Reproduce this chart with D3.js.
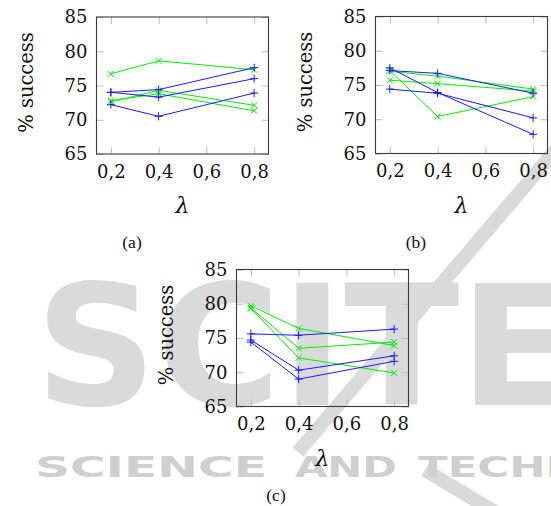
<!DOCTYPE html>
<html>
<head>
<meta charset="utf-8">
<script src="https://cdn.jsdelivr.net/npm/d3@7"></script>
<style>
  body { margin: 0; background: #fff; }
  svg { display: block; }
</style>
</head>
<body>
<svg width="551" height="506"></svg>
<script>
// values, x = lambda
const lambdas = [0.2, 0.4, 0.8];
const xTicks = [0.2, 0.4, 0.6, 0.8];
const yTicks = [65, 70, 75, 80, 85];
const captions = ["(a)", "(b)", "(c)"];

const greenA = [[76.7, 78.6, 77.3], [72.6, 74.3, 72.1], [72.8, 73.8, 71.3]];
const blueA = [[74.0, 74.4, 77.6], [74.0, 73.3, 76.0], [72.2, 70.5, 73.9]];
const greenB = [[77.0, 76.3, 74.4], [75.7, 75.2, 74.1], [77.1, 70.4, 73.3]];
const blueB = [[77.1, 76.7, 73.8], [77.5, 73.9, 67.8], [74.4, 73.8, 70.2]];
const greenC = [[79.7, 76.4, 73.9], [79.4, 73.5, 74.4], [79.3, 72.1, 69.9]];
const blueC = [[75.6, 75.4, 76.3], [74.7, 70.3, 72.4], [74.4, 69.0, 71.6]];

const svg = d3.select("svg");

// background watermark
const wm = svg.append("g").attr("fill", "#dadada");
wm.append("text")
    .attr("x", 35).attr("y", 405)
    .attr("font-family", "DejaVu Sans").attr("font-weight", "bold")
    .attr("font-size", 168)
    .attr("textLength", 540).attr("lengthAdjust", "spacingAndGlyphs")
    .text("SCITE");
wm.append("line")
    .attr("x1", 560).attr("y1", 145).attr("x2", 298).attr("y2", 452)
    .attr("stroke", "#dadada").attr("stroke-width", 14);
wm.append("line")
    .attr("x1", 425).attr("y1", 470).attr("x2", 500).attr("y2", 515)
    .attr("stroke", "#dadada").attr("stroke-width", 14);
const wmWords = [["SCIENCE", 35, 232], ["AND", 295, 102], ["TECHNOLOGY", 418, 330]];
wm.selectAll(".word")
    .data(wmWords)
    .enter().append("text")
      .attr("class", "word")
      .attr("x", d => d[1]).attr("y", 477)
      .attr("font-family", "DejaVu Sans").attr("font-weight", "bold")
      .attr("font-size", 29)
      .attr("textLength", d => d[2]).attr("lengthAdjust", "spacingAndGlyphs")
      .attr("fill", "#cfcfcf")
      .text(d => d[0]);

const w = 172, h = 137;
const panels = [
    {left: 96.5, top: 17, green: greenA, blue: blueA, cap: [132, 248]},
    {left: 375.5, top: 16.5, green: greenB, blue: blueB, cap: [416, 248]},
    {left: 236.5, top: 269.5, green: greenC, blue: blueC, cap: [276, 501]}
];

const x = d3.scaleLinear().domain([0.14, 0.86]).range([0, w]);
const y = d3.scaleLinear().domain([65, 85]).range([h, 0]);

const line = d3.line()
    .x((d, i) => x(lambdas[i]))
    .y(d => y(d));

panels.forEach((p, k) => {
    const g = svg.append("g")
        .attr("transform", `translate(${p.left},${p.top})`);

    // ticks inside on all four sides
    const fmt = d => d.toString().replace(".", ",");
    g.append("g").attr("class", "ax")
        .attr("transform", `translate(0,${h})`)
        .call(d3.axisBottom(x).tickValues(xTicks).tickSizeInner(-7).tickSizeOuter(0)
            .tickPadding(11).tickFormat(fmt));
    g.append("g").attr("class", "ax")
        .call(d3.axisTop(x).tickValues(xTicks).tickSizeInner(-7).tickSizeOuter(0).tickFormat(""));
    g.append("g").attr("class", "ax")
        .call(d3.axisLeft(y).tickValues(yTicks).tickSizeInner(-7).tickSizeOuter(0).tickPadding(9));
    g.append("g").attr("class", "ax")
        .attr("transform", `translate(${w},0)`)
        .call(d3.axisRight(y).tickValues(yTicks).tickSizeInner(-7).tickSizeOuter(0).tickFormat(""));

    g.selectAll(".ax .domain").remove();
    g.selectAll(".ax line").attr("stroke", "#bcbcbc");
    g.selectAll(".ax text")
        .attr("font-family", "DejaVu Serif")
        .attr("font-size", 18)
        .attr("fill", "#111");

    g.append("rect")
        .attr("width", w).attr("height", h)
        .attr("fill", "none")
        .attr("stroke", "#3a3a3a")
        .attr("stroke-width", 1.1);

    // green series with x marks
    p.green.forEach(s => {
        g.append("path")
            .attr("d", line(s))
            .attr("fill", "none")
            .attr("stroke", "#00ee00")
            .attr("stroke-width", 1);
        g.selectAll(null)
            .data(s)
            .enter().append("path")
              .attr("transform", (d, i) => `translate(${x(lambdas[i])},${y(d)})`)
              .attr("d", "M-3,-3L3,3M-3,3L3,-3")
              .attr("stroke", "#00ee00")
              .attr("stroke-width", 1);
    });

    // blue series with + marks
    p.blue.forEach(s => {
        g.append("path")
            .attr("d", line(s))
            .attr("fill", "none")
            .attr("stroke", "#1a1aff")
            .attr("stroke-width", 1);
        g.selectAll(null)
            .data(s)
            .enter().append("path")
              .attr("transform", (d, i) => `translate(${x(lambdas[i])},${y(d)})`)
              .attr("d", "M-4,0H4M0,-4V4")
              .attr("stroke", "#1a1aff")
              .attr("stroke-width", 1);
    });

    g.append("text")
        .attr("transform", `translate(-64,${h / 2 - 3}) rotate(-90)`)
        .attr("text-anchor", "middle")
        .attr("font-family", "DejaVu Serif")
        .attr("font-size", 19.5)
        .attr("fill", "#111")
        .text("% success");

    g.append("text")
        .attr("x", w / 2)
        .attr("y", h + 59)
        .attr("text-anchor", "middle")
        .attr("font-family", "DejaVu Serif")
        .attr("font-style", "italic")
        .attr("font-size", 22)
        .attr("fill", "#111")
        .text("λ");

    svg.append("text")
        .attr("x", p.cap[0])
        .attr("y", p.cap[1])
        .attr("text-anchor", "middle")
        .attr("font-family", "Liberation Serif")
        .attr("font-size", 17.5)
        .attr("fill", "#111")
        .text(captions[k]);
});
</script>
</body>
</html>
